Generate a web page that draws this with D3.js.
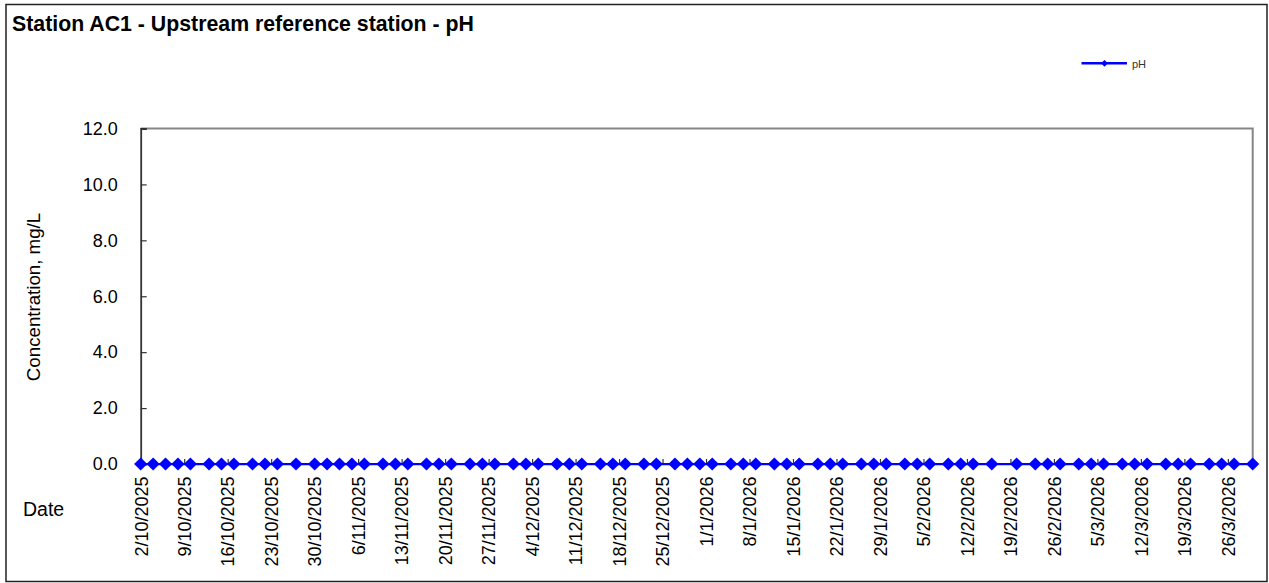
<!DOCTYPE html>
<html>
<head>
<meta charset="utf-8">
<script src="https://cdn.jsdelivr.net/npm/d3@7"></script>
<style>
  html, body { margin: 0; padding: 0; background: #fff; }
  svg { display: block; font-family: Arial, "Liberation Sans", sans-serif; }
</style>
</head>
<body>
<svg id="chart" width="1269" height="583"></svg>
<script>
const chartTitle = "Station AC1 - Upstream reference station - pH";
const seriesName = "pH";
const yAxisTitle = "Concentration, mg/L";
const xAxisTitle = "Date";

const sampleDates = [
  "2/10/2025","4/10/2025","6/10/2025","8/10/2025","10/10/2025","13/10/2025","15/10/2025","17/10/2025",
  "20/10/2025","22/10/2025","24/10/2025","27/10/2025","30/10/2025","1/11/2025","3/11/2025","5/11/2025",
  "7/11/2025","10/11/2025","12/11/2025","14/11/2025","17/11/2025","19/11/2025","21/11/2025","24/11/2025",
  "26/11/2025","28/11/2025","1/12/2025","3/12/2025","5/12/2025","8/12/2025","10/12/2025","12/12/2025",
  "15/12/2025","17/12/2025","19/12/2025","22/12/2025","24/12/2025","27/12/2025","29/12/2025","31/12/2025",
  "2/1/2026","5/1/2026","7/1/2026","9/1/2026","12/1/2026","14/1/2026","16/1/2026","19/1/2026",
  "21/1/2026","23/1/2026","26/1/2026","28/1/2026","30/1/2026","2/2/2026","4/2/2026","6/2/2026",
  "9/2/2026","11/2/2026","13/2/2026","16/2/2026","20/2/2026","23/2/2026","25/2/2026","27/2/2026",
  "2/3/2026","4/3/2026","6/3/2026","9/3/2026","11/3/2026","13/3/2026","16/3/2026","18/3/2026",
  "20/3/2026","23/3/2026","25/3/2026","27/3/2026","30/3/2026"
];
const phValues = [
  0,0,0,0,0,0,0,0, 0,0,0,0,0,0,0,0, 0,0,0,0,0,0,0,0, 0,0,0,0,0,0,0,0,
  0,0,0,0,0,0,0,0, 0,0,0,0,0,0,0,0, 0,0,0,0,0,0,0,0, 0,0,0,0,0,0,0,0,
  0,0,0,0,0,0,0,0, 0,0,0,0,0
];
const xTickLabels = [
  "2/10/2025","9/10/2025","16/10/2025","23/10/2025","30/10/2025","6/11/2025","13/11/2025",
  "20/11/2025","27/11/2025","4/12/2025","11/12/2025","18/12/2025","25/12/2025","1/1/2026",
  "8/1/2026","15/1/2026","22/1/2026","29/1/2026","5/2/2026","12/2/2026","19/2/2026",
  "26/2/2026","5/3/2026","12/3/2026","19/3/2026","26/3/2026"
];
const xDomainLabels = ["2/10/2025", "30/3/2026"];
const yTickValues = [0, 2, 4, 6, 8, 10, 12];
const yDomain = [0, 12];

const parseDate = s => { const [d, m, y] = s.split("/").map(Number); return new Date(Date.UTC(y, m - 1, d)); };
const data = sampleDates.map((s, i) => ({ date: parseDate(s), value: phValues[i] }));

const svg = d3.select("#chart");
const plotL = 140.7, plotR = 1252.7, plotT = 128.5, plotB = 464;

const x = d3.scaleUtc().domain(xDomainLabels.map(parseDate)).range([plotL, plotR]);
const y = d3.scaleLinear().domain(yDomain).range([plotB, plotT]);

// outer frame
svg.append("rect").attr("x", 6).attr("y", 4.5).attr("width", 1261).attr("height", 577)
  .attr("fill", "#fff").attr("stroke", "#222").attr("stroke-width", 1.5);

// title
svg.append("text").attr("x", 12).attr("y", 31).attr("font-size", 21.3).attr("font-weight", "bold")
  .attr("fill", "#000").text(chartTitle);

// plot border (top & right gray)
svg.append("path").attr("d", `M${plotL},${plotT}H${plotR}V${plotB}`)
  .attr("fill", "none").attr("stroke", "#858585").attr("stroke-width", 2);

// y axis
const yAxis = d3.axisLeft(y).tickValues(yTickValues).tickSize(-6).tickPadding(23)
  .tickFormat(d3.format(".1f"));
const gy = svg.append("g").attr("transform", `translate(${plotL},0)`).call(yAxis);
gy.select(".domain").attr("stroke", "#333").attr("stroke-width", 1.8);
gy.selectAll(".tick line").attr("stroke", "#333").attr("stroke-width", 1.2);
gy.selectAll(".tick text").attr("font-size", 18).attr("fill", "#000")
  .attr("font-family", "Arial, 'Liberation Sans', sans-serif");

// x axis
const tickDates = xTickLabels.map(parseDate);
const xAxis = d3.axisBottom(x).tickValues(tickDates).tickSize(-5).tickPadding(12)
  .tickFormat((d, i) => xTickLabels[i]);
const gx = svg.append("g").attr("transform", `translate(0,${plotB})`).call(xAxis);
gx.select(".domain").attr("stroke", "#333").attr("stroke-width", 1.5);
gx.selectAll(".tick line").attr("stroke", "#333").attr("stroke-width", 1.2);
gx.selectAll(".tick text").attr("font-size", 18).attr("fill", "#000")
  .attr("font-family", "Arial, 'Liberation Sans', sans-serif")
  .attr("text-anchor", "end").attr("dy", "0.35em")
  .attr("transform", "translate(0,12.5) rotate(-90)").attr("x", 0).attr("y", 0);

// axis titles
svg.append("text").attr("transform", `translate(39.5,297) rotate(-90)`)
  .attr("text-anchor", "middle").attr("font-size", 18.7).attr("fill", "#000").text(yAxisTitle);
svg.append("text").attr("x", 23).attr("y", 516).attr("font-size", 19.5).attr("fill", "#000").text(xAxisTitle);

// series
const line = d3.line().x(d => x(d.date)).y(d => y(d.value));
svg.append("path").datum(data).attr("d", line).attr("fill", "none")
  .attr("stroke", "#0000ff").attr("stroke-width", 2.2);
const diamond = r => `M0,${-r}L${r},0L0,${r}L${-r},0Z`;
svg.append("g").selectAll("path").data(data).join("path")
  .attr("transform", d => `translate(${x(d.date)},${y(d.value)})`)
  .attr("d", diamond(6.6)).attr("fill", "#0000ff");

// legend
const lg = svg.append("g");
lg.append("line").attr("x1", 1081.5).attr("x2", 1127).attr("y1", 63.3).attr("y2", 63.3)
  .attr("stroke", "#0000ff").attr("stroke-width", 2.4);
lg.append("path").attr("transform", "translate(1104.5,63.3)").attr("d", diamond(3.4)).attr("fill", "#0000ff");
lg.append("text").attr("x", 1132).attr("y", 67.5).attr("font-size", 11).attr("fill", "#333").text(seriesName);
</script>
</body>
</html>
